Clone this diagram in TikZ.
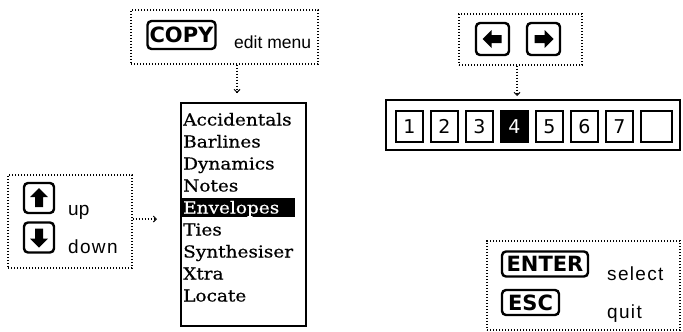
\documentclass[tikz,border=0pt]{standalone}
\usepackage{fontspec}
\usetikzlibrary{arrows.meta}
\newfontfamily\keyfont{DejaVu Sans}
\newfontfamily\labfont{Liberation Sans}
\newfontfamily\menufont{DejaVu Serif}[FakeStretch=1.12,FakeBold=0.6]
\newfontfamily\digfont{DejaVu Sans}
\tikzset{
  dotbox/.style={draw, line width=1.1pt, dash pattern=on 1.1pt off 1.9pt},
  dotarrow/.style={line width=1.1pt, dash pattern=on 1.1pt off 1.9pt, -{Straight Barb[length=3pt,width=6pt,line width=1pt]}},
  keybox/.style={draw, line width=2.4pt, rounded corners=4pt, inner sep=0pt, font=\keyfont\bfseries\fontsize{21}{21}\selectfont},
  lab/.style={anchor=base west, inner sep=0pt, font=\labfont\fontsize{19}{19}\selectfont},
  wlab/.style={lab, font=\labfont\fontsize{19}{19}\selectfont\addfontfeature{LetterSpace=7}},
  item/.style={anchor=base west, inner sep=0pt, font=\menufont\fontsize{16.5}{16.5}\selectfont},
  cell/.style={draw, line width=1.6pt, minimum width=27pt, minimum height=31pt, inner sep=0pt, font=\digfont\fontsize{19}{19}\selectfont},
}
\begin{document}
\begin{tikzpicture}[x=1pt,y=-1pt]
\useasboundingbox (0,0) rectangle (683,332);
% COPY box
\node[dotbox, minimum width=187pt, minimum height=54pt, inner sep=0pt] (copybox) at (224.5,37) {};
\node[keybox, minimum width=68pt, minimum height=28pt] (copykey) at (181.5,35) {COPY};
\node[lab, font=\labfont\fontsize{17.5}{17.5}\selectfont] (editlab) at (234,48) {edit menu};
% menu
\node[draw, line width=1.4pt, minimum width=125pt, minimum height=223pt, inner sep=0pt] (menu) at (243.5,214.5) {};
\fill (182,198) rectangle (295,217);
\node[item] (i1) at (183,125.5) {Accidentals};
\node[item] (i2) at (183,147.5) {Barlines};
\node[item] (i3) at (183,169.5) {Dynamics};
\node[item] (i4) at (183,191.5) {Notes};
\node[item, text=white] (i5) at (183,213.5) {Envelopes};
\node[item] (i6) at (183,235.5) {Ties};
\node[item] (i7) at (183,257.5) {Synthesiser};
\node[item] (i8) at (183,279.5) {Xtra};
\node[item] (i9) at (183,301.5) {Locate};
\coordinate (a1) at (237,93);
\draw[dotarrow] (copybox.south -| a1) -- (a1);
% up/down box
\node[dotbox, minimum width=124pt, minimum height=93pt, inner sep=0pt] (udbox) at (70,221.5) {};
\node[keybox, minimum width=30pt, minimum height=30pt] (upkey) at (39,198) {};
\node[keybox, minimum width=30pt, minimum height=30pt] (downkey) at (39,237.5) {};
\fill[shift={(upkey.center)}] (0,-10) -- (9,-1) -- (4,-1) -- (4,9) -- (-4,9) -- (-4,-1) -- (-9,-1) -- cycle;
\fill[shift={(downkey.center)}] (0,10) -- (9,1) -- (4,1) -- (4,-9) -- (-4,-9) -- (-4,1) -- (-9,1) -- cycle;
\node[lab] (uplab) at (68,215) {up};
\node[wlab] (downlab) at (68,253) {down};
\coordinate (a2) at (157,219);
\draw[dotarrow] (udbox.east |- a2) -- (a2);
% left/right box
\node[dotbox, minimum width=123pt, minimum height=51pt, inner sep=0pt] (arrbox) at (520.5,39.5) {};
\node[keybox, minimum width=33pt, minimum height=32pt] (leftkey) at (492.5,39) {};
\node[keybox, minimum width=33pt, minimum height=32pt] (rightkey) at (543.5,39) {};
\fill[shift={(leftkey.center)}] (-10,0) -- (-1,9) -- (-1,4) -- (9,4) -- (9,-4) -- (-1,-4) -- (-1,-9) -- cycle;
\fill[shift={(rightkey.center)}] (10,0) -- (1,9) -- (1,4) -- (-9,4) -- (-9,-4) -- (1,-4) -- (1,-9) -- cycle;
\coordinate (a3) at (517,96);
\draw[dotarrow] (arrbox.south -| a3) -- (a3);
% number strip
\node[draw, line width=1.4pt, minimum width=294pt, minimum height=50pt, inner sep=0pt] (strip) at (533,125) {};
\node[cell] (c1) at (409.5,126.5) {1};
\node[cell] (c2) at (444.5,126.5) {2};
\node[cell] (c3) at (479.5,126.5) {3};
\node[cell, fill=black, text=white] (c4) at (514.5,126.5) {4};
\node[cell] (c5) at (549.5,126.5) {5};
\node[cell] (c6) at (584.5,126.5) {6};
\node[cell] (c7) at (619.5,126.5) {7};
\node[cell, minimum width=31pt] (c8) at (656.5,126.5) {};
% enter/esc box
\node[dotbox, minimum width=193pt, minimum height=89pt, inner sep=0pt] (entbox) at (583.5,285.5) {};
\node[keybox, minimum width=86pt, minimum height=25pt] (enterkey) at (545,264) {ENTER};
\node[keybox, minimum width=57pt, minimum height=25pt] (esckey) at (530.5,302.5) {ESC};
\node[wlab] (sellab) at (607,280) {select};
\node[wlab] (quitlab) at (607,318) {quit};
\end{tikzpicture}
\end{document}
